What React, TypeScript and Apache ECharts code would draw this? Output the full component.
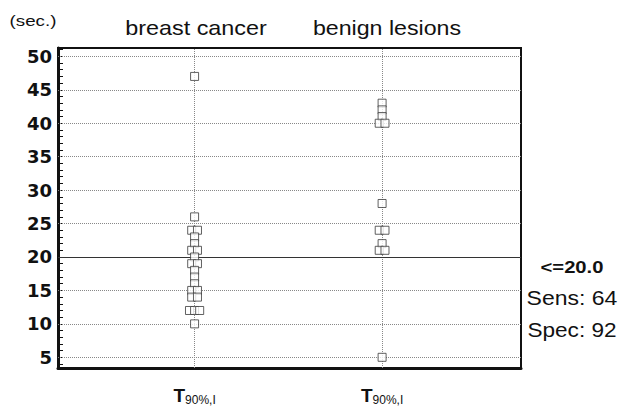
import React, { useEffect, useRef } from "react";
import * as echarts from "echarts";

const categories = ["breast cancer", "benign lesions"];
const categoryPos = [2.95, 7.0];
const breastCancer = [47, 26, 24, 24, 23, 22, 21, 21, 20, 19, 19, 18, 17, 16, 15, 15, 14, 14, 12, 12, 12, 10];
const benignLesions = [43, 42, 41, 40, 40, 28, 24, 24, 22, 21, 21, 5];
const yTickLabels = [5, 10, 15, 20, 25, 30, 35, 40, 45, 50];
const yMinorTicks = Array.from({ length: 48 }, (_, i) => i + 4);
const cutoff = 20;
const cutoffText = "<=20.0";
const sensText = "Sens: 64";
const specText = "Spec: 92";
const unitText = "(sec.)";

function jitter(values: number[], center: number): number[][] {
  const counts: Record<number, number> = {};
  values.forEach((v) => (counts[v] = (counts[v] || 0) + 1));
  const seen: Record<number, number> = {};
  return values.map((v) => {
    const n = counts[v];
    const k = seen[v] || 0;
    seen[v] = k + 1;
    const step = n >= 3 ? 0.11 : 0.125;
    const off = (k - (n - 1) / 2) * step;
    return [center + off, v];
  });
}

export default function App() {
  const ref = useRef<HTMLDivElement>(null);
  useEffect(() => {
    if (!ref.current) return;
    const chart = echarts.init(ref.current, null, { renderer: "svg" });
    const font = "DejaVu Sans, Liberation Sans, sans-serif";
    const hfont = "Liberation Sans, Arial, sans-serif";
    const symbolStyle = { color: "#fff", borderColor: "#3a3a3a", borderWidth: 1 };
    const txt = (text: string, x: number, y: number, size: number, sx: number, bold = false) => ({
      type: "text",
      x,
      y,
      scaleX: sx,
      style: {
        text,
        fontSize: size,
        fontWeight: bold ? "bold" : "normal",
        fill: "#111",
        fontFamily: hfont,
        align: "center",
        verticalAlign: "middle",
      },
    });
    chart.setOption({
      animation: false,
      textStyle: { fontFamily: font },
      grid: {
        left: 58,
        right: 100,
        top: 48,
        bottom: 37,
        show: true,
        borderColor: "#111",
        borderWidth: 2,
        backgroundColor: "#fff",
      },
      xAxis: {
        type: "value",
        min: 0,
        max: 10,
        splitLine: { show: false },
        axisLine: { show: true, onZero: false, lineStyle: { color: "#111", width: 3 } },
        axisTick: { show: false },
        axisLabel: {
          customValues: categoryPos,
          margin: 16,
          formatter: () => "{t|T}{s|90%,I}",
          rich: {
            t: { fontSize: 19, fontWeight: "bold", color: "#111", fontFamily: hfont },
            s: { fontSize: 12, color: "#111", fontFamily: hfont, padding: [10, 0, 0, 0] },
          },
        },
      },
      yAxis: {
        type: "value",
        min: 3.4,
        max: 51.25,
        splitLine: { show: false },
        axisLine: { show: true, onZero: false, lineStyle: { color: "#111", width: 3 } },
        axisTick: {
          show: true,
          inside: true,
          length: 5,
          customValues: yMinorTicks,
          lineStyle: { color: "#111", width: 1 },
        },
        axisLabel: {
          customValues: yTickLabels,
          fontSize: 18,
          fontWeight: "bold",
          color: "#111",
          margin: 6,
          fontFamily: font,
        },
      },
      series: [
        {
          type: "scatter",
          symbol: "rect",
          symbolSize: 8,
          itemStyle: symbolStyle,
          data: jitter(breastCancer, categoryPos[0]),
          z: 5,
          markLine: {
            silent: true,
            symbol: "none",
            label: { show: false },
            lineStyle: { color: "#888", type: [1, 1], width: 1 },
            data: [
              ...yTickLabels.filter((v) => v !== cutoff).map((v) => ({ yAxis: v })),
              ...categoryPos.map((p) => ({ xAxis: p })),
            ],
          },
        },
        {
          type: "scatter",
          symbol: "rect",
          symbolSize: 8,
          itemStyle: symbolStyle,
          data: jitter(benignLesions, categoryPos[1]),
          z: 5,
          markLine: {
            silent: true,
            symbol: "none",
            label: { show: false },
            lineStyle: { color: "#333", type: "solid", width: 1 },
            data: [{ yAxis: cutoff }],
          },
        },
      ],
      graphic: [
        txt(unitText, 33, 21, 15, 1.25),
        txt(categories[0], 196, 28, 20, 1.17),
        txt(categories[1], 387, 28, 20, 1.16),
        txt(cutoffText, 572, 267, 17, 1.19, true),
        txt(sensText, 572, 298, 20, 1.15),
        txt(specText, 572, 330, 20, 1.13),
      ],
    });
    return () => chart.dispose();
  }, []);
  return <div ref={ref} style={{ width: 621, height: 406, position: "absolute", left: 0, top: 0 }} />;
}
